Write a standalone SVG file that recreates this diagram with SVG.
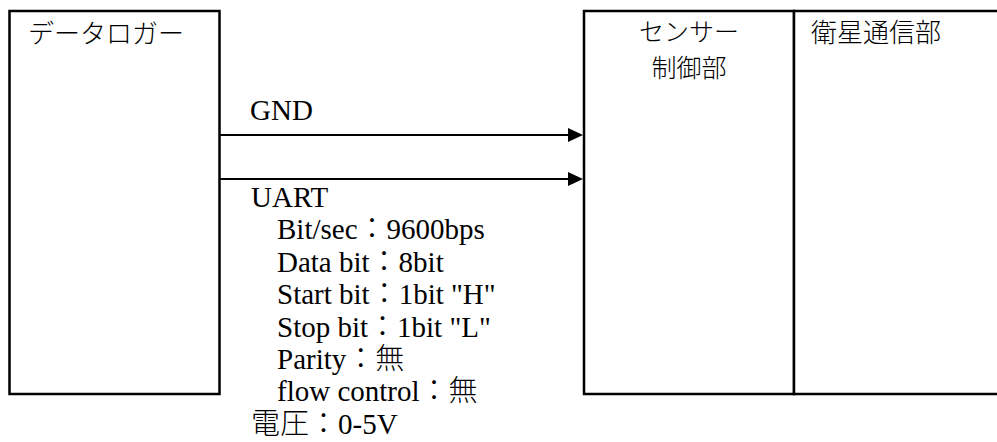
<svg xmlns="http://www.w3.org/2000/svg" width="997" height="442" viewBox="0 0 997 442">
  <style>
    .box { fill: #fff; stroke: #000; stroke-width: 2.5; }
    .ttl { font-family: "Noto Sans CJK JP", sans-serif; font-size: 26px; font-weight: 300; fill: #000; }
    .sm { font-size: 25px; }
    .lbl { font-family: "Liberation Serif", "Noto Sans CJK JP", serif; font-size: 29px; font-weight: 300; fill: #000; }
    .wire { stroke: #000; stroke-width: 2; fill: none; }
  </style>
  <defs>
    <marker id="arrow" markerUnits="userSpaceOnUse" markerWidth="15" markerHeight="14" refX="0" refY="7" orient="auto">
      <path d="M0,0 L15,7 L0,14 Z" fill="#000"/>
    </marker>
  </defs>
  <rect width="997" height="442" fill="#fff"/>

  <g id="datalogger">
    <rect class="box" x="9.5" y="11" width="210" height="383"/>
    <text class="ttl" x="28" y="43">データロガー</text>
  </g>

  <g id="sensor-control">
    <rect class="box" x="584" y="11" width="210" height="383"/>
    <text class="ttl sm" x="689" y="40.5" text-anchor="middle">センサー</text>
    <text class="ttl sm" x="689" y="77" text-anchor="middle">制御部</text>
  </g>

  <g id="satellite-comm">
    <rect class="box" x="794" y="11" width="212" height="383"/>
    <text class="ttl" x="811" y="42">衛星通信部</text>
  </g>

  <g id="connectors">
    <line class="wire" x1="220" y1="135" x2="568" y2="135" marker-end="url(#arrow)"/>
    <line class="wire" x1="220" y1="179" x2="568" y2="179" marker-end="url(#arrow)"/>
    <text class="lbl" x="250" y="120">GND</text>
    <g id="uart-label">
      <text class="lbl" x="251" y="207">UART</text>
      <text class="lbl" x="277" y="239.4">Bit/sec：9600bps</text>
      <text class="lbl" x="277" y="271.8">Data bit：8bit</text>
      <text class="lbl" x="277" y="304.2">Start bit：1bit "H"</text>
      <text class="lbl" x="277" y="336.6">Stop bit：1bit "L"</text>
      <text class="lbl" x="277" y="369">Parity：無</text>
      <text class="lbl" x="277" y="401.4">flow control：無</text>
      <text class="lbl" x="251" y="433.8">電圧：0-5V</text>
    </g>
  </g>
</svg>
